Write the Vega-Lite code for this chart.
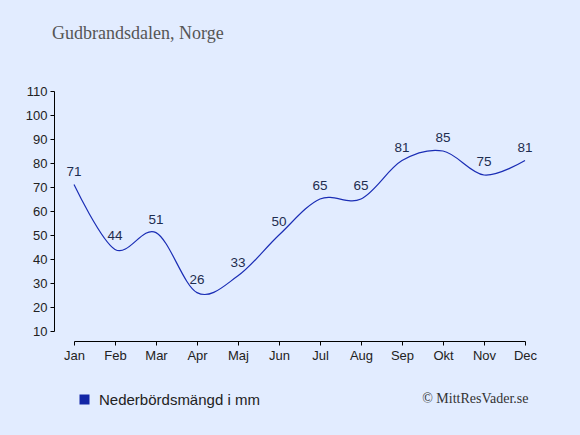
{
  "$schema": "https://vega.github.io/schema/vega-lite/v6.json",
  "description": "Monthly precipitation in Gudbrandsdalen, Norway.",
  "width": 451,
  "height": 240,
  "autosize": {"type": "none"},
  "padding": {"left": 74, "top": 91, "right": 55, "bottom": 104},
  "background": "#e2ecff",
  "title": {
    "text": "Gudbrandsdalen, Norge",
    "anchor": "start",
    "frame": "group",
    "dx": -22,
    "offset": 28,
    "baseline": "alphabetic",
    "font": "Liberation Serif",
    "fontSize": 18,
    "fontWeight": "normal",
    "color": "#555555"
  },
  "data": {
    "values": [
      {"month": "Jan", "mm": 71},
      {"month": "Feb", "mm": 44},
      {"month": "Mar", "mm": 51},
      {"month": "Apr", "mm": 26},
      {"month": "Maj", "mm": 33},
      {"month": "Jun", "mm": 50},
      {"month": "Jul", "mm": 65},
      {"month": "Aug", "mm": 65},
      {"month": "Sep", "mm": 81},
      {"month": "Okt", "mm": 85},
      {"month": "Nov", "mm": 75},
      {"month": "Dec", "mm": 81}
    ]
  },
  "encoding": {
    "x": {
      "field": "month",
      "type": "ordinal",
      "sort": null,
      "scale": {"type": "point", "padding": 0},
      "axis": {
        "offset": 10,
        "labelAngle": 0,
        "tickSize": 4,
        "labelPadding": 4,
        "title": "© MittResVader.se",
        "titleFont": "Liberation Serif",
        "titleFontSize": 14,
        "titleFontWeight": "normal",
        "titleColor": "#333333",
        "titleX": 454,
        "titleY": 61,
        "titleAlign": "right",
        "titleBaseline": "alphabetic"
      }
    },
    "y": {
      "field": "mm",
      "type": "quantitative",
      "scale": {"domain": [10, 110], "nice": false, "zero": false},
      "axis": {
        "offset": 20,
        "values": [10, 20, 30, 40, 50, 60, 70, 80, 90, 100, 110],
        "tickSize": 4,
        "labelPadding": 3,
        "title": null
      }
    }
  },
  "layer": [
    {
      "mark": {"type": "line", "interpolate": "cardinal", "strokeWidth": 1.2},
      "encoding": {
        "color": {
          "datum": "Nederbördsmängd i mm",
          "type": "nominal",
          "scale": {"range": ["#1a2db5"]},
          "legend": {
            "orient": "none",
            "legendX": 3,
            "legendY": 301,
            "title": null,
            "padding": 0,
            "symbolType": "square",
            "symbolSize": 100,
            "symbolFillColor": "#1326a6",
            "symbolStrokeColor": "#1326a6",
            "symbolStrokeWidth": 0,
            "labelOffset": 7,
            "labelFont": "Liberation Sans",
            "labelFontSize": 15,
            "labelColor": "#222222",
            "labelLimit": 300,
            "encode": {
              "symbols": {"update": {"fill": {"value": "#1326a6"}, "opacity": {"value": 1}}}
            }
          }
        }
      }
    },
    {
      "mark": {
        "type": "text",
        "dy": -13,
        "baseline": "middle",
        "font": "Liberation Sans",
        "fontSize": 13.5,
        "color": "#1e2d50"
      },
      "encoding": {"text": {"field": "mm", "type": "quantitative"}}
    }
  ],
  "config": {
    "view": {"stroke": null},
    "axis": {
      "grid": false,
      "domainColor": "#000000",
      "tickColor": "#000000",
      "labelFont": "Liberation Sans",
      "labelFontSize": 13,
      "labelColor": "#222222"
    }
  }
}
